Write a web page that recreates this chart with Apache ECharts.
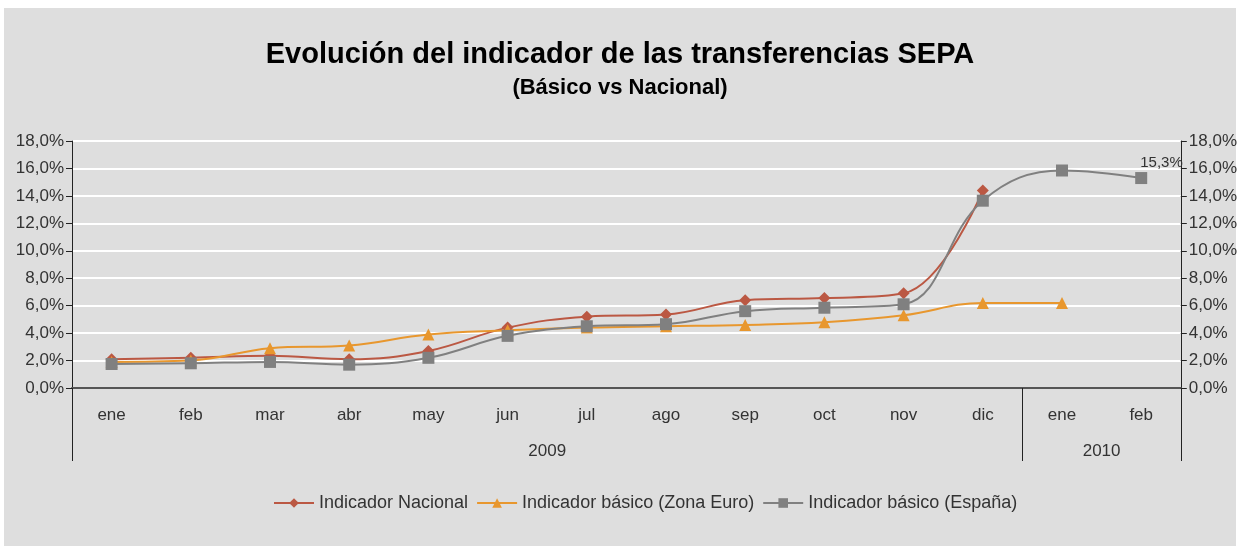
<!DOCTYPE html>
<html>
<head>
<meta charset="utf-8">
<script src="https://cdn.jsdelivr.net/npm/echarts@6/dist/echarts.min.js"></script>
<style>
  body { margin: 0; background: #ffffff; }
  #bg { position: absolute; left: 4px; top: 8px; width: 1232px; height: 538px; background: #dedede; }
  #chart { position: absolute; left: 0; top: 0; width: 1240px; height: 546px; }
</style>
</head>
<body>
<div id="bg"></div>
<div id="chart"></div>
<script>
var months = ["ene", "feb", "mar", "abr", "may", "jun", "jul", "ago", "sep", "oct", "nov", "dic", "ene", "feb"];
var years = ["2009", "2010"];
var yearCenters = [6, 13];
var yearBounds = [0, 12, 14];
var nacional = [2.1, 2.2, 2.35, 2.1, 2.7, 4.4, 5.2, 5.35, 6.4, 6.55, 6.9, 14.4];
var zonaEuro = [1.9, 2.0, 2.9, 3.1, 3.9, 4.2, 4.4, 4.5, 4.6, 4.8, 5.3, 6.2, 6.2];
var espana = [1.75, 1.8, 1.9, 1.7, 2.2, 3.8, 4.5, 4.65, 5.6, 5.85, 6.1, 13.65, 15.85, 15.3];

var chart = echarts.init(document.getElementById("chart"));

var fontFam = "Liberation Sans";
var pct = function (v) { return v.toFixed(1).replace(".", ",") + "%"; };

// only the last point of España carries a label
var espanaData = espana.map(function (v, i) {
  if (i === espana.length - 1) {
    return {
      value: v,
      label: { show: true, position: [5, -17], formatter: function (p) { return pct(p.value); },
               color: "#333", fontSize: 15, fontFamily: fontFam }
    };
  }
  return v;
});

var yAxisBase = {
  type: "value",
  min: 0,
  max: 18,
  interval: 2,
  axisLine: { show: true, lineStyle: { color: "#222", width: 1 } },
  axisTick: { show: true, length: 6, lineStyle: { color: "#222" } },
  axisLabel: { formatter: pct, color: "#333", fontSize: 17, fontFamily: fontFam, margin: 8 },
  splitLine: { show: true, lineStyle: { color: "#ffffff", width: 2 } }
};

var option = {
  animation: false,
  textStyle: { fontFamily: fontFam },
  title: {
    text: "Evolución del indicador de las transferencias SEPA",
    subtext: "(Básico vs Nacional)",
    left: "center",
    top: 35,
    itemGap: 8,
    textStyle: { fontSize: 29, fontWeight: "bold", color: "#000", fontFamily: fontFam },
    subtextStyle: { fontSize: 22, fontWeight: "bold", color: "#000", fontFamily: fontFam }
  },
  grid: { left: 72, right: 58, top: 141, bottom: 158 },
  legend: {
    bottom: 29,
    left: 268,
    itemWidth: 40,
    itemHeight: 12,
    itemGap: 8,
    textStyle: { fontSize: 18, color: "#333", fontFamily: fontFam },
    data: ["Indicador Nacional", "Indicador básico (Zona Euro)", "Indicador básico (España)"]
  },
  xAxis: [
    {
      type: "category",
      data: months,
      position: "bottom",
      axisLine: { show: true, lineStyle: { color: "#555", width: 2 } },
      axisTick: { show: false },
      axisLabel: { color: "#333", fontSize: 17, fontFamily: fontFam, margin: 19, interval: 0 }
    },
    {
      // second level: years, with separators between them
      type: "value",
      min: 0,
      max: months.length,
      position: "bottom",
      axisLine: { show: false },
      splitLine: { show: false },
      axisTick: { show: true, inside: false, length: 73, customValues: yearBounds, lineStyle: { color: "#222" } },
      axisLabel: {
        customValues: yearCenters,
        formatter: function (v) { return years[yearCenters.indexOf(v)]; },
        color: "#333", fontSize: 17, fontFamily: fontFam, margin: 55
      }
    }
  ],
  yAxis: [
    Object.assign({}, yAxisBase, { position: "left" }),
    Object.assign({}, yAxisBase, { position: "right", splitLine: { show: false } })
  ],
  series: [
    {
      name: "Indicador Nacional",
      type: "line",
      data: nacional,
      smooth: 0.4,
      symbol: "diamond",
      symbolSize: 12,
      itemStyle: { color: "#bb5843" },
      lineStyle: { color: "#bb5843", width: 2 }
    },
    {
      name: "Indicador básico (Zona Euro)",
      type: "line",
      data: zonaEuro,
      smooth: 0.4,
      symbol: "triangle",
      symbolSize: 12,
      itemStyle: { color: "#e8972e" },
      lineStyle: { color: "#e8972e", width: 2 }
    },
    {
      name: "Indicador básico (España)",
      type: "line",
      data: espanaData,
      smooth: 0.4,
      symbol: "rect",
      symbolSize: 12,
      itemStyle: { color: "#808080" },
      lineStyle: { color: "#808080", width: 2 }
    }
  ]
};

chart.setOption(option);
</script>
</body>
</html>
